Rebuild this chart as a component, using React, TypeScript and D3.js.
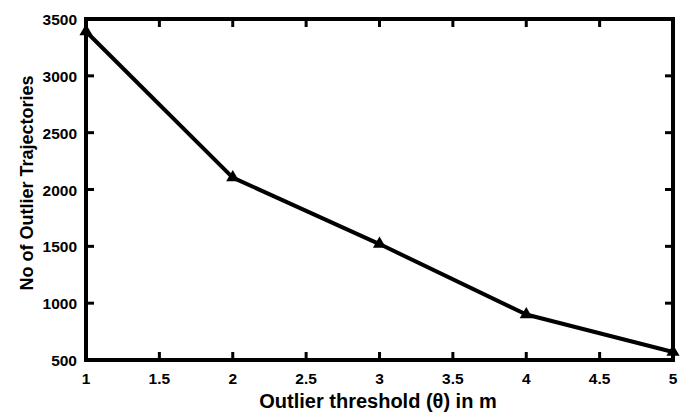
import React from "react";
import * as d3 from "d3";

const thresholds = [1, 2, 3, 4, 5];
const trajectories = [3390, 2105, 1520, 900, 570];
const xTicks = [1, 1.5, 2, 2.5, 3, 3.5, 4, 4.5, 5];
const yTicks = [500, 1000, 1500, 2000, 2500, 3000, 3500];

export default function App() {
  const W = 680, H = 417;
  const m = { left: 86, right: 673, top: 19, bottom: 360 };
  const x = d3.scaleLinear().domain([1, 5]).range([m.left, m.right]);
  const y = d3.scaleLinear().domain([500, 3500]).range([m.bottom, m.top]);
  const line = d3.line<number>().x((_, i) => x(thresholds[i])).y((d) => y(d));
  const tri = d3.symbol().type(d3.symbolTriangle).size(75)();
  const font = "'Liberation Sans', Arial, sans-serif";
  return (
    <svg width={W} height={H} style={{ position: "absolute", left: 0, top: 0 }} fontFamily={font}>
      <rect width={W} height={H} fill="#fff" />
      {xTicks.map((t) => (
        <g key={"x" + t}>
          <line x1={x(t)} x2={x(t)} y1={m.bottom} y2={m.bottom - 8} stroke="#000" strokeWidth={3} />
          <line x1={x(t)} x2={x(t)} y1={m.top} y2={m.top + 8} stroke="#000" strokeWidth={3} />
          <text x={x(t)} y={m.bottom + 24} textAnchor="middle" fontSize={15.5} fontWeight="bold">{t}</text>
        </g>
      ))}
      {yTicks.map((t) => (
        <g key={"y" + t}>
          <line x1={m.left} x2={m.left + 8} y1={y(t)} y2={y(t)} stroke="#000" strokeWidth={3} />
          <line x1={m.right} x2={m.right - 8} y1={y(t)} y2={y(t)} stroke="#000" strokeWidth={3} />
          <text x={m.left - 9} y={y(t) + 6} textAnchor="end" fontSize={15.5} fontWeight="bold">{t}</text>
        </g>
      ))}
      <rect x={m.left} y={m.top} width={m.right - m.left} height={m.bottom - m.top} fill="none" stroke="#000" strokeWidth={4} />
      <path d={line(trajectories) || ""} fill="none" stroke="#000" strokeWidth={4} strokeLinejoin="round" />
      {trajectories.map((v, i) => (
        <path key={i} d={tri || ""} transform={`translate(${x(thresholds[i])},${y(v)})`} fill="#000" />
      ))}
      <text x={378} y={408} textAnchor="middle" fontSize={20} fontWeight="bold">Outlier threshold (θ) in m</text>
      <text transform={`translate(33,183) rotate(-90)`} textAnchor="middle" fontSize={18} fontWeight="bold">No of Outlier Trajectories</text>
    </svg>
  );
}
